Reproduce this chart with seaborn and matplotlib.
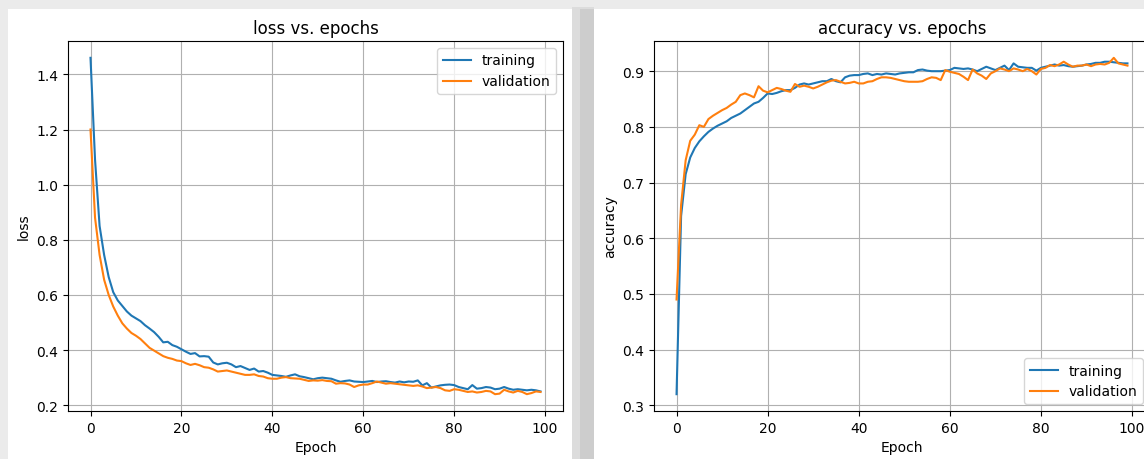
import numpy as np
import pandas as pd
import matplotlib
matplotlib.use('Agg')
import matplotlib.pyplot as plt
from matplotlib.patches import Rectangle
import seaborn as sns

# values
epochs = list(range(100))

train_loss = [
    1.46, 1.09, 0.85, 0.745, 0.665, 0.61, 0.58, 0.56, 0.54, 0.525,
    0.515, 0.505, 0.49, 0.478, 0.465, 0.448, 0.428, 0.43, 0.418, 0.412,
    0.403, 0.394, 0.386, 0.389, 0.377, 0.378, 0.376, 0.355, 0.348, 0.352,
    0.354, 0.348, 0.338, 0.342, 0.335, 0.328, 0.333, 0.322, 0.324, 0.318,
    0.31, 0.308, 0.306, 0.303, 0.308, 0.312, 0.305, 0.302, 0.298, 0.294,
    0.298, 0.3, 0.298, 0.296, 0.29, 0.285, 0.288, 0.29, 0.286, 0.285,
    0.284, 0.286, 0.288, 0.284, 0.286, 0.287, 0.284, 0.282, 0.286, 0.283,
    0.286, 0.285, 0.29, 0.272, 0.28, 0.264, 0.268, 0.272, 0.274, 0.275,
    0.273, 0.266, 0.262, 0.258, 0.273, 0.26, 0.262, 0.266, 0.264, 0.258,
    0.26, 0.266, 0.26, 0.256, 0.258, 0.256, 0.254, 0.256, 0.254, 0.25,
]
val_loss = [
    1.20, 0.88, 0.745, 0.655, 0.60, 0.558, 0.525, 0.497, 0.478, 0.462,
    0.452, 0.44, 0.424, 0.408, 0.398, 0.388, 0.378, 0.372, 0.368, 0.362,
    0.36, 0.352, 0.346, 0.35, 0.345, 0.338, 0.336, 0.33, 0.322, 0.324,
    0.326, 0.322, 0.318, 0.314, 0.31, 0.31, 0.312, 0.306, 0.304, 0.298,
    0.296, 0.296, 0.3, 0.302, 0.298, 0.297, 0.296, 0.292, 0.288, 0.29,
    0.289, 0.291, 0.288, 0.287, 0.278, 0.28, 0.279, 0.275, 0.266, 0.272,
    0.275, 0.275, 0.28, 0.286, 0.282, 0.278, 0.28, 0.278, 0.276, 0.274,
    0.272, 0.27, 0.272, 0.268, 0.262, 0.264, 0.266, 0.262, 0.254, 0.252,
    0.258, 0.256, 0.252, 0.248, 0.25, 0.246, 0.248, 0.252, 0.25, 0.24,
    0.242, 0.256, 0.25, 0.246, 0.252, 0.248, 0.24, 0.244, 0.25, 0.248,
]
train_acc = [
    0.32, 0.64, 0.715, 0.745, 0.762, 0.774, 0.783, 0.791, 0.797, 0.802,
    0.806, 0.81, 0.816, 0.82, 0.824, 0.83, 0.836, 0.842, 0.845, 0.852,
    0.86, 0.859, 0.861, 0.864, 0.866, 0.866, 0.87, 0.876, 0.878, 0.876,
    0.878, 0.88, 0.882, 0.882, 0.886, 0.882, 0.88, 0.889, 0.892, 0.893,
    0.893, 0.895, 0.896, 0.893, 0.895, 0.894, 0.896, 0.895, 0.894, 0.896,
    0.897, 0.898, 0.898, 0.902, 0.903, 0.901, 0.9, 0.9, 0.9, 0.901,
    0.902, 0.906, 0.905, 0.904, 0.905, 0.903, 0.9, 0.904, 0.908, 0.905,
    0.902, 0.906, 0.91, 0.902, 0.914, 0.908, 0.907, 0.906, 0.906, 0.901,
    0.906, 0.908, 0.91, 0.912, 0.91, 0.911, 0.909, 0.908, 0.909, 0.91,
    0.912, 0.913, 0.915, 0.915, 0.917, 0.917, 0.916, 0.915, 0.914, 0.914,
]
val_acc = [
    0.49, 0.66, 0.74, 0.775, 0.786, 0.803, 0.8, 0.814, 0.82, 0.825,
    0.83, 0.834, 0.84, 0.845, 0.857, 0.86, 0.857, 0.853, 0.873, 0.865,
    0.862, 0.866, 0.87, 0.868, 0.865, 0.863, 0.877, 0.872, 0.874, 0.872,
    0.869, 0.872, 0.876, 0.88, 0.883, 0.884, 0.881, 0.878, 0.879, 0.881,
    0.878, 0.878, 0.881, 0.882, 0.886, 0.889, 0.889, 0.888, 0.886, 0.884,
    0.882, 0.881, 0.881, 0.881, 0.882, 0.886, 0.889, 0.888, 0.884, 0.902,
    0.899, 0.897, 0.895, 0.89, 0.884, 0.903, 0.896, 0.892, 0.886, 0.896,
    0.9, 0.905, 0.903, 0.9, 0.905, 0.903, 0.9, 0.904, 0.9, 0.894,
    0.904, 0.906, 0.911, 0.909, 0.912, 0.917, 0.912, 0.908, 0.91, 0.91,
    0.912, 0.909, 0.912, 0.913, 0.912, 0.915, 0.924, 0.914, 0.912, 0.91,
]

W, H = 1144, 460
fig = plt.figure(figsize=(W / 100, H / 100), dpi=100, facecolor='#ebebeb')


def px_rect(x0, y0, x1, y1, color):
    # rectangle given in screen pixels (y from top)
    r = Rectangle((x0 / W, 1 - y1 / H), (x1 - x0) / W, (y1 - y0) / H,
                  transform=fig.transFigure, facecolor=color,
                  edgecolor='none', zorder=0)
    fig.add_artist(r)


# screenshot cards and shadow
px_rect(572, 8, 594, 460, '#dcdcdc')
px_rect(580, 10, 594, 460, '#cdcdcd')
px_rect(8, 10, 572, 460, 'white')
px_rect(594, 10, 1144, 460, 'white')

ax1 = fig.add_axes([68 / W, 48 / H, 495 / W, 370 / H])
ax2 = fig.add_axes([654 / W, 48 / H, 496 / W, 370 / H])

blue, orange = '#1f77b4', '#ff7f0e'

panels = [
    (ax1, train_loss, val_loss, 'loss', 'upper right'),
    (ax2, train_acc, val_acc, 'accuracy', 'lower right'),
]
for ax, tr, va, name, loc in panels:
    df = pd.DataFrame({'epoch': epochs, 'training': tr, 'validation': va})
    sns.lineplot(data=df, x='epoch', y='training', ax=ax, color=blue,
                 label='training', linewidth=1.5)
    sns.lineplot(data=df, x='epoch', y='validation', ax=ax, color=orange,
                 label='validation', linewidth=1.5)
    ax.set_title(f'{name} vs. epochs', fontsize=12)
    ax.set_xlabel('Epoch')
    ax.set_ylabel(name)
    ax.set_xticks([0, 20, 40, 60, 80, 100])
    ax.grid(True, color='#b0b0b0', linewidth=0.8)
    ax.legend(loc=loc)

fig.savefig('out.png', dpi=100, facecolor=fig.get_facecolor())
